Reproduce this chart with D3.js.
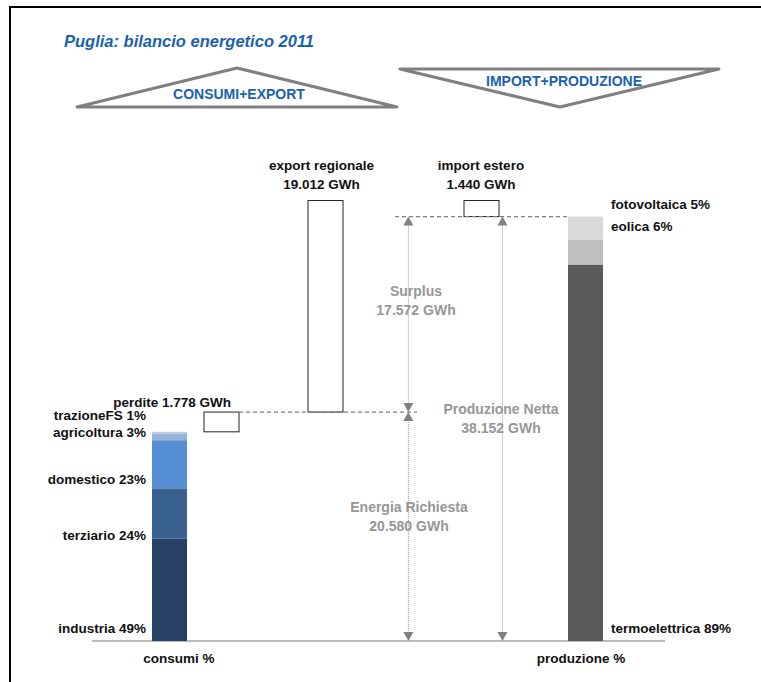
<!DOCTYPE html>
<html>
<head>
<meta charset="utf-8">
<script src="https://cdn.jsdelivr.net/npm/d3@7"></script>
<style>
  body { margin: 0; background: #fff; }
  svg text { font-family: "Liberation Sans", Arial, sans-serif; font-weight: bold; }
</style>
</head>
<body>
<div id="chart"></div>
<script>
// Energy balance values (GWh)
const energiaRichiesta = 20580;
const perdite = 1778;
const exportRegionale = 19012;
const importEstero = 1440;
const produzioneNetta = 38152;
const surplus = 17572;

// Consumption shares (%), bottom to top
const consumiCat = ["industria", "terziario", "domestico", "agricoltura", "trazioneFS"];
const consumiPct = [49, 24, 23, 3, 1];
const consumiColors = ["#264164", "#38618f", "#558ed5", "#95b3d7", "#b9cde5"];

// Production shares (%), bottom to top
const produzioneCat = ["termoelettrica", "eolica", "fotovoltaica"];
const produzionePct = [88.7, 5.9, 5.4];
const produzioneColors = ["#595959", "#bfbfbf", "#d9d9d9"];

const W = 761, H = 682;
const svg = d3.select("#chart").append("svg")
    .attr("width", W)
    .attr("height", H);

// frame (only top and left edges are visible)
svg.append("line").attr("x1", 9).attr("x2", W).attr("y1", 7).attr("y2", 7)
    .attr("stroke", "#000").attr("stroke-width", 2);
svg.append("line").attr("x1", 10).attr("x2", 10).attr("y1", 6).attr("y2", H)
    .attr("stroke", "#000").attr("stroke-width", 2);

// title
svg.append("text")
    .attr("x", 64).attr("y", 47)
    .attr("fill", "#1a62ad")
    .style("font-size", "16.5px")
    .style("font-style", "italic")
    .text("Puglia: bilancio energetico 2011");

// header triangles
svg.append("path")
    .attr("d", "M77,107 L237,68 L397,107 Z")
    .attr("fill", "none").attr("stroke", "#808080").attr("stroke-width", 3)
    .attr("stroke-linejoin", "round");
svg.append("text")
    .attr("x", 239).attr("y", 99).attr("text-anchor", "middle")
    .attr("fill", "#1a62ad").style("font-size", "14px")
    .text("CONSUMI+EXPORT");

svg.append("path")
    .attr("d", "M400,69 L719,69 L560,107 Z")
    .attr("fill", "none").attr("stroke", "#808080").attr("stroke-width", 3)
    .attr("stroke-linejoin", "round");
svg.append("text")
    .attr("x", 564).attr("y", 86).attr("text-anchor", "middle")
    .attr("fill", "#1a62ad").style("font-size", "14px")
    .text("IMPORT+PRODUZIONE");

// scales
const y = d3.scaleLinear()
    .domain([0, 40000])
    .range([641, 196]);

// column slots: consumi 0, perdite 1, export 3, import 6, produzione 8
const x = d3.scaleLinear().domain([0, 8]).range([152, 568]);
const barW = 35;

// baseline
svg.append("line")
    .attr("x1", 92).attr("x2", 665)
    .attr("y1", y(0)).attr("y2", y(0))
    .attr("stroke", "#a6a6a6").attr("stroke-width", 1.5);

// stacked consumption bar
const consumiTot = energiaRichiesta - perdite;
let cum = 0;
const consumiSeg = consumiPct.map((p, i) => {
    const v0 = cum;
    cum += consumiTot * p / 100;
    return { cat: consumiCat[i], pct: p, v0: v0, v1: cum, color: consumiColors[i] };
});
svg.selectAll(".cons").data(consumiSeg).enter().append("rect")
    .attr("class", "cons")
    .attr("x", x(0)).attr("width", barW)
    .attr("y", d => y(d.v1))
    .attr("height", d => y(d.v0) - y(d.v1))
    .attr("fill", d => d.color);

// consumption labels, offset from the bottom of each segment
const consLabelDy = [-8, 1, -4, -3, -14];
svg.selectAll(".consLbl").data(consumiSeg).enter().append("text")
    .attr("x", 146)
    .attr("y", (d, i) => y(d.v0) + consLabelDy[i])
    .attr("text-anchor", "end")
    .style("font-size", "13.5px")
    .attr("fill", "#111")
    .text(d => `${d.cat} ${d.pct}%`);

// stacked production bar
cum = 0;
const prodSeg = produzionePct.map((p, i) => {
    const v0 = cum;
    cum += produzioneNetta * p / 100;
    return { cat: produzioneCat[i], pct: p, v0: v0, v1: cum, color: produzioneColors[i] };
});
svg.selectAll(".prod").data(prodSeg).enter().append("rect")
    .attr("class", "prod")
    .attr("x", x(8)).attr("width", barW)
    .attr("y", d => y(d.v1))
    .attr("height", d => y(d.v0) - y(d.v1))
    .attr("fill", d => d.color);

svg.selectAll(".prodLbl").data(prodSeg).enter().append("text")
    .attr("x", 611)
    .attr("y", (d, i) => i === 0 ? y(d.v0) - 8 : y(d.v1) - 8)
    .style("font-size", "13.5px")
    .attr("fill", "#111")
    .text(d => `${d.cat} ${Math.round(d.pct)}%`);

// waterfall boxes
const boxes = [
    { slot: 1, v0: consumiTot, v1: energiaRichiesta },
    { slot: 3, v0: energiaRichiesta, v1: energiaRichiesta + exportRegionale },
    { slot: 6, v0: produzioneNetta, v1: produzioneNetta + importEstero }
];
svg.selectAll(".box").data(boxes).enter().append("rect")
    .attr("class", "box")
    .attr("x", d => x(d.slot)).attr("width", barW)
    .attr("y", d => y(d.v1))
    .attr("height", d => y(d.v0) - y(d.v1))
    .attr("fill", "#fff").attr("stroke", "#222").attr("stroke-width", 1);

// dashed guide lines
svg.append("line")
    .attr("x1", x(1) + barW).attr("x2", 417)
    .attr("y1", y(energiaRichiesta)).attr("y2", y(energiaRichiesta))
    .attr("stroke", "#7f7f7f").attr("stroke-width", 1.2).attr("stroke-dasharray", "4,3");
svg.append("line")
    .attr("x1", 395).attr("x2", x(8))
    .attr("y1", y(produzioneNetta)).attr("y2", y(produzioneNetta))
    .attr("stroke", "#7f7f7f").attr("stroke-width", 1.2).attr("stroke-dasharray", "4,3");

// double arrows
function arrowHead(cx, tipY, dir) {
    const h = 9 * dir, w = 5;
    svg.append("path")
        .attr("d", `M${cx},${tipY} L${cx - w},${tipY + h} L${cx + w},${tipY + h} Z`)
        .attr("fill", "#808080");
}
function doubleArrow(cx, v0, v1) {
    const yTop = y(v1), yBot = y(v0);
    svg.append("line")
        .attr("x1", cx).attr("x2", cx)
        .attr("y1", yTop + 8).attr("y2", yBot - 8)
        .attr("stroke", "#999").attr("stroke-width", 1).attr("stroke-dasharray", "1,1");
    arrowHead(cx, yTop, 1);
    arrowHead(cx, yBot, -1);
}
const xA = x(4.93), xB = x(6.74);
doubleArrow(xA, energiaRichiesta, produzioneNetta);
doubleArrow(xA, 0, energiaRichiesta);
doubleArrow(xB, 0, produzioneNetta);

// value labels
function twoLine(cx, y1, l1, l2, color, size) {
    const t = svg.append("text")
        .attr("text-anchor", "middle")
        .attr("fill", color)
        .style("font-size", size);
    t.append("tspan").attr("x", cx).attr("y", y1).text(l1);
    t.append("tspan").attr("x", cx).attr("y", y1 + 19).text(l2);
}
const fmt = v => d3.format(",")(v).replace(/,/g, ".") + " GWh";

twoLine(x(3) + barW / 2 - 4, 170, "export regionale", fmt(exportRegionale), "#111", "13.5px");
twoLine(x(6) + barW / 2 - 0.5, 170, "import estero", fmt(importEstero), "#111", "13.5px");
svg.append("text")
    .attr("x", x(1) + barW - 8).attr("y", y(energiaRichiesta) - 5)
    .attr("text-anchor", "end")
    .style("font-size", "13.5px").attr("fill", "#111")
    .text("perdite " + fmt(perdite));

twoLine(416, (y(produzioneNetta) + y(energiaRichiesta)) / 2 - 18, "Surplus", fmt(surplus), "#969696", "14px");
twoLine(501, (y(0) + y(produzioneNetta)) / 2 - 14.5, "Produzione Netta", fmt(produzioneNetta), "#969696", "14px");
twoLine(409, (y(0) + y(energiaRichiesta)) / 2 - 14.5, "Energia Richiesta", fmt(energiaRichiesta), "#969696", "14px");

// bottom category labels
svg.append("text").attr("x", 179).attr("y", 663).attr("text-anchor", "middle")
    .style("font-size", "13.5px").attr("fill", "#111").text("consumi %");
svg.append("text").attr("x", 581).attr("y", 663).attr("text-anchor", "middle")
    .style("font-size", "13.5px").attr("fill", "#111").text("produzione %");
</script>
</body>
</html>
